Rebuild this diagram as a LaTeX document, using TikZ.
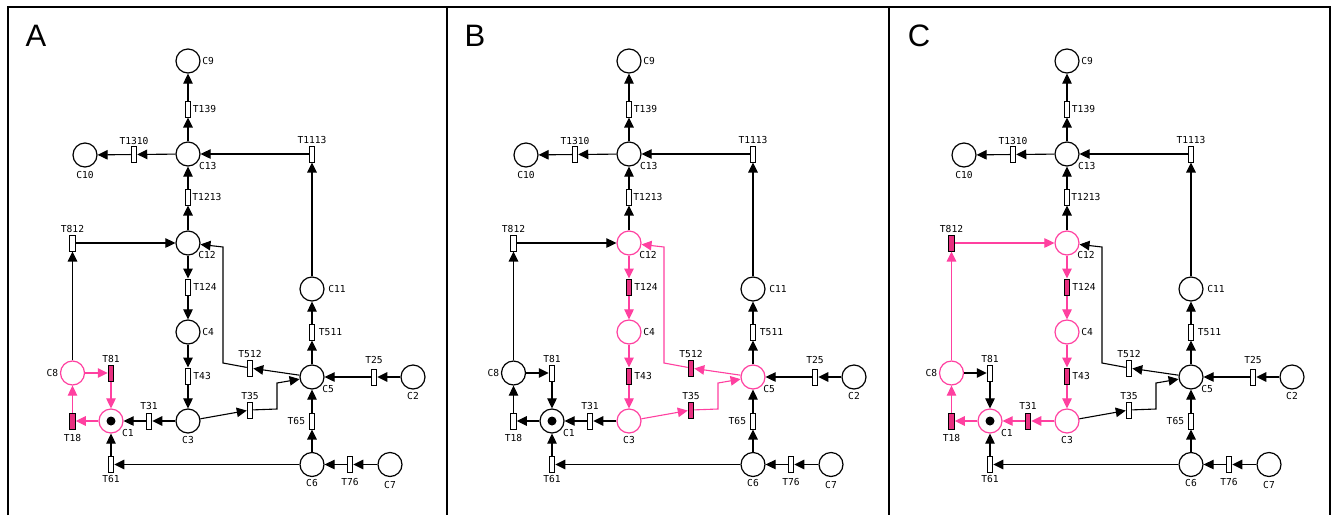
\documentclass[tikz,border=0pt]{standalone}
\usepackage{fontspec}
\newfontfamily\netfont{DejaVu Sans Mono}
\newfontfamily\panelfont{Liberation Sans}
\usetikzlibrary{arrows.meta}
\definecolor{litpink}{RGB}{255,64,160}
\definecolor{firedpink}{RGB}{232,48,128}
\newcommand\netlabel{\netfont\fontsize{9.6}{10}\selectfont}
\tikzset{
  place/.style={circle, draw, line width=1.2pt, minimum size=24pt, inner sep=0pt},
  trans/.style={rectangle, draw, line width=1pt, fill=white, minimum width=5.5pt, minimum height=16pt, inner sep=0pt},
  flow/.style={-{Triangle[length=10pt,width=9.5pt]}, line width=1.1pt},
  every label/.style={font=\netlabel, inner sep=0.5pt},
  lit/.style={#1/.style={draw=litpink}},
  fired/.style={#1/.style={fill=firedpink}, flow#1/.style={color=litpink}},
  panelA/.style={lit=C8, lit=C1, fired=T81, fired=T18},
  panelB/.style={lit=C12, lit=C4, lit=C3, lit=C5, fired=T124, fired=T43, fired=T35, fired=T512},
  panelC/.style={lit=C8, lit=C12, lit=C4, lit=C3, lit=C1, fired=T812, fired=T124, fired=T43, fired=T31, fired=T18}
}
\begin{document}
\begin{tikzpicture}[x=1pt,y=-1pt]
\path[use as bounding box, fill=white] (0,0) rectangle (1336,515);
\draw[line width=2pt] (8,515) -- (8,7) -- (1330,7) -- (1330,515);
\draw[line width=2pt] (447,7) -- (447,515) (889,7) -- (889,515);

\foreach \dx/\pan/\px in {0/A/36,441/B/34,879/C/40}
{
\begin{scope}[xshift=\dx pt, panel\pan]
\node[font=\panelfont\fontsize{31}{31}\selectfont, inner sep=0pt] (letter\pan) at (\px,36) {\pan};

\foreach \nm/\x/\y/\pos/\dist in {C9/188/61/right/1,C13/188/154/-35/0,C10/85/155/below/3,
  C12/188/243/-40/0,C11/312/289/right/3,C4/188/332/right/1,C8/72.5/373/left/1,C5/312/377/-40/0,
  C2/413/377/below/2.5,C1/111/421/-35/0,C3/188/421/below/2.5,C6/312/464.5/below/2,C7/390/464.5/below/4}
{
\node[place, \nm/.try, label={[label distance=\dist pt]\pos:\nm}] (\nm) at (\x,\y) {};
}

\foreach \nm/\x/\y/\pos/\dist in {T139/188/109/right/1,T1310/134/154.5/above/1,T1113/312/154/above/1.5,
  T1213/188/197/right/0.5,T812/72.5/243/above/1.5,T124/188/287/right/1.5,T43/188/376/right/1.5,
  T512/250/368/above/1.5,T81/111/373/above/1.5,T511/312/332/right/3,T25/374/377/above/4,
  T35/250/410/above/1,T18/72.5/421/below/4,T31/149/421/above/2,T65/312/421/left/3,
  T61/111/464.5/below/2,T76/350/464.5/below/5}
{
\node[trans, \nm/.try, label={[label distance=\dist pt]\pos:\nm}] (\nm) at (\x,\y) {};
}

\foreach \tr/\src/\dst in {T139/C13/C9,T1310/C13/C10,T1113/C11/C13,T1213/C12/C13,T812/C8/C12,
  T124/C12/C4,T43/C4/C3,T81/C8/C1,T511/C5/C11,T25/C2/C5,T18/C1/C8,T31/C3/C1,
  T65/C6/C5,T61/C6/C1,T76/C7/C6}
{
\draw[flow, flow\tr/.try] (\src) -- (\tr);
\draw[flow, flow\tr/.try] (\tr) -- (\dst);
}
\draw[flow, flowT512/.try] (C5) -- (T512);
\draw[flow, flowT512/.try] (T512) -- (223,363) -- (223,247) -- (C12);
\draw[flow, flowT35/.try] (C3) -- (T35);
\draw[flow, flowT35/.try] (T35) -- (277,409) -- (277,383) -- (C5);

\fill (C1) circle (4.5pt);
\end{scope}
}
\end{tikzpicture}
\end{document}
